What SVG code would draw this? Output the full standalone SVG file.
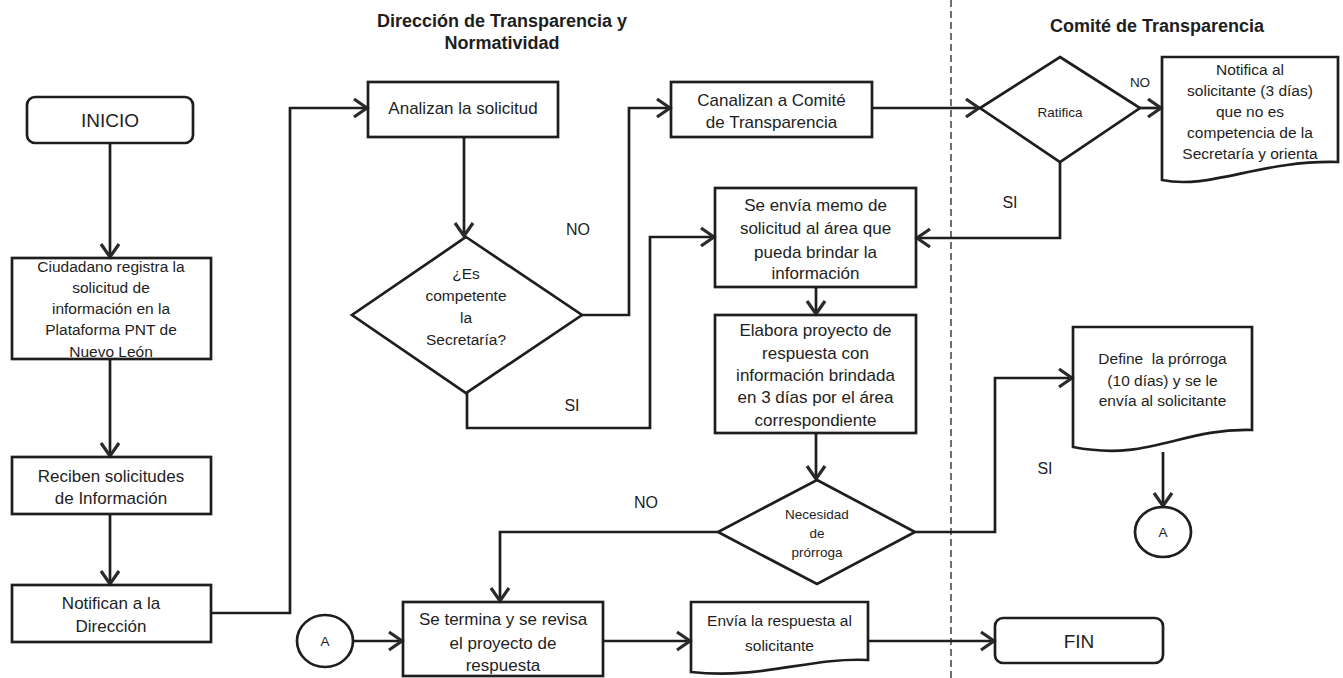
<svg xmlns="http://www.w3.org/2000/svg" width="1343" height="678" viewBox="0 0 1343 678">
<style>
text{font-family:"Liberation Sans",Arial,sans-serif;fill:#1e1e1e;text-anchor:middle}
.t{font-size:17px}
.s{font-size:15.5px}
.d{font-size:13.5px}
.h{font-size:18px;font-weight:bold}
.big{font-size:19px}
.lbl{font-size:16px}
.shape{fill:none;stroke:#1e1e1e;stroke-width:2.7}
.conn{fill:none;stroke:#1e1e1e;stroke-width:2.7}
.lane{stroke:#333;stroke-width:1.4;stroke-dasharray:7 4}
</style>
<defs>
<marker id="arr" markerUnits="userSpaceOnUse" markerWidth="18" markerHeight="22" refX="14" refY="10" orient="auto" overflow="visible">
<path d="M1,1 L14,10 L1,19" fill="none" stroke="#2a2a2a" stroke-width="3.2" stroke-linejoin="miter"/>
</marker>
</defs>
<rect width="1343" height="678" fill="#fff"/>

<g id="lane-divider"><line class="lane" x1="951" y1="0" x2="951" y2="678"/></g>

<g id="titles">
<text class="h" x="502" y="27">Dirección de Transparencia y</text>
<text class="h" x="502" y="49">Normatividad</text>
<text class="h" x="1157" y="32">Comité de Transparencia</text>
</g>

<g id="connectors">
<path class="conn" d="M110,143 V257" marker-end="url(#arr)"/>
<path class="conn" d="M110,359 V456" marker-end="url(#arr)"/>
<path class="conn" d="M110,514 V584" marker-end="url(#arr)"/>
<path class="conn" d="M211,613 H290 V108 H367" marker-end="url(#arr)"/>
<path class="conn" d="M464,137 V236" marker-end="url(#arr)"/>
<path class="conn" d="M582,315 H629 V108 H670" marker-end="url(#arr)"/>
<path class="conn" d="M467,392 V428 H650 V237 H714" marker-end="url(#arr)"/>
<path class="conn" d="M872,108 H979" marker-end="url(#arr)"/>
<path class="conn" d="M1140,108 H1161" marker-end="url(#arr)"/>
<path class="conn" d="M1060,162 V238 H917" marker-end="url(#arr)"/>
<path class="conn" d="M816,287 V314" marker-end="url(#arr)"/>
<path class="conn" d="M816,433 V479" marker-end="url(#arr)"/>
<path class="conn" d="M718,532 H500 V601" marker-end="url(#arr)"/>
<path class="conn" d="M915,532 H995 V378 H1072" marker-end="url(#arr)"/>
<path class="conn" d="M1163,452 V506" marker-end="url(#arr)"/>
<path class="conn" d="M353,641 H402" marker-end="url(#arr)"/>
<path class="conn" d="M603,641 H690" marker-end="url(#arr)"/>
<path class="conn" d="M868,641 H994" marker-end="url(#arr)"/>
<text class="lbl" x="578" y="235">NO</text>
<text class="lbl" x="572" y="411">SI</text>
<text class="d" x="1140" y="87">NO</text>
<text class="lbl" x="1010" y="208">SI</text>
<text class="lbl" x="646" y="508">NO</text>
<text class="lbl" x="1045" y="474">SI</text>
</g>

<g id="inicio">
<rect class="shape" x="27" y="97" width="166" height="46" rx="8"/>
<text class="big" x="110" y="127">INICIO</text>
</g>

<g id="ciudadano">
<rect class="shape" x="12" y="258" width="199" height="101"/>
<text class="s" x="111" y="272">Ciudadano registra la</text>
<text class="s" x="111" y="293">solicitud de</text>
<text class="s" x="111" y="314">información en la</text>
<text class="s" x="111" y="335">Plataforma PNT de</text>
<text class="s" x="111" y="357">Nuevo León</text>
</g>

<g id="reciben">
<rect class="shape" x="12" y="457" width="199" height="57"/>
<text class="t" x="111" y="482">Reciben solicitudes</text>
<text class="t" x="111" y="504">de Información</text>
</g>

<g id="notifican">
<rect class="shape" x="12" y="585" width="199" height="57"/>
<text class="t" x="111" y="609">Notifican a la</text>
<text class="t" x="111" y="632">Dirección</text>
</g>

<g id="analizan">
<rect class="shape" x="368" y="82" width="190" height="55"/>
<text class="t" x="463" y="114">Analizan la solicitud</text>
</g>

<g id="es-competente">
<polygon class="shape" points="466,237 582,315 466,393 352,315"/>
<text class="s" x="466" y="279">¿Es</text>
<text class="s" x="466" y="301">competente</text>
<text class="s" x="466" y="323">la</text>
<text class="s" x="466" y="345">Secretaría?</text>
</g>

<g id="canalizan">
<rect class="shape" x="671" y="82" width="201" height="55"/>
<text class="t" x="771.5" y="106">Canalizan a Comité</text>
<text class="t" x="771.5" y="128">de Transparencia</text>
</g>

<g id="ratifica">
<polygon class="shape" points="1060,57 1140,108 1060,162 980,108"/>
<text class="d" x="1060" y="117">Ratifica</text>
</g>

<g id="notifica-solicitante">
<path class="shape" d="M1162,57 H1338 V162 C1260,160 1210,190 1162,180 Z"/>
<text class="s" x="1250" y="75">Notifica al</text>
<text class="s" x="1250" y="96">solicitante (3 días)</text>
<text class="s" x="1250" y="117">que no es</text>
<text class="s" x="1250" y="138">competencia de la</text>
<text class="s" x="1250" y="159">Secretaría y orienta</text>
</g>

<g id="se-envia-memo">
<rect class="shape" x="715" y="188" width="201" height="99"/>
<text class="t" x="815.5" y="211">Se envía memo de</text>
<text class="t" x="815.5" y="234">solicitud al área que</text>
<text class="t" x="815.5" y="258">pueda brindar la</text>
<text class="t" x="815.5" y="279">información</text>
</g>

<g id="elabora">
<rect class="shape" x="715" y="315" width="201" height="118"/>
<text class="t" x="815.5" y="336">Elabora proyecto de</text>
<text class="t" x="815.5" y="359">respuesta con</text>
<text class="t" x="815.5" y="381">información brindada</text>
<text class="t" x="815.5" y="403">en 3 días por el área</text>
<text class="t" x="815.5" y="426">correspondiente</text>
</g>

<g id="necesidad-prorroga">
<polygon class="shape" points="817,480 915,532 817,584 718,532"/>
<text class="d" x="817" y="519">Necesidad</text>
<text class="d" x="817" y="538">de</text>
<text class="d" x="817" y="557">prórroga</text>
</g>

<g id="define-prorroga">
<path class="shape" d="M1073,327 H1252 V430 C1180,428 1150,462 1073,447 Z"/>
<text class="s" x="1162.5" y="364" style="white-space:pre">Define  la prórroga</text>
<text class="s" x="1162.5" y="386">(10 días) y se le</text>
<text class="s" x="1162.5" y="406">envía al solicitante</text>
</g>

<g id="conector-a-salida">
<ellipse class="shape" cx="1163" cy="532" rx="28" ry="25"/>
<text class="d" x="1163" y="537">A</text>
</g>

<g id="conector-a-entrada">
<ellipse class="shape" cx="325" cy="641" rx="28" ry="26"/>
<text class="d" x="325" y="646">A</text>
</g>

<g id="se-termina">
<rect class="shape" x="403" y="602" width="200" height="74"/>
<text class="t" x="503" y="625">Se termina y se revisa</text>
<text class="t" x="503" y="649">el proyecto de</text>
<text class="t" x="503" y="671">respuesta</text>
</g>

<g id="envia-respuesta">
<path class="shape" d="M691,602 H868 V660 C810,657 760,680 691,672 Z"/>
<text class="s" x="779.5" y="626">Envía la respuesta al</text>
<text class="s" x="779.5" y="651">solicitante</text>
</g>

<g id="fin">
<rect class="shape" x="995" y="618" width="168" height="45" rx="8"/>
<text class="big" x="1079" y="648">FIN</text>
</g>
</svg>
